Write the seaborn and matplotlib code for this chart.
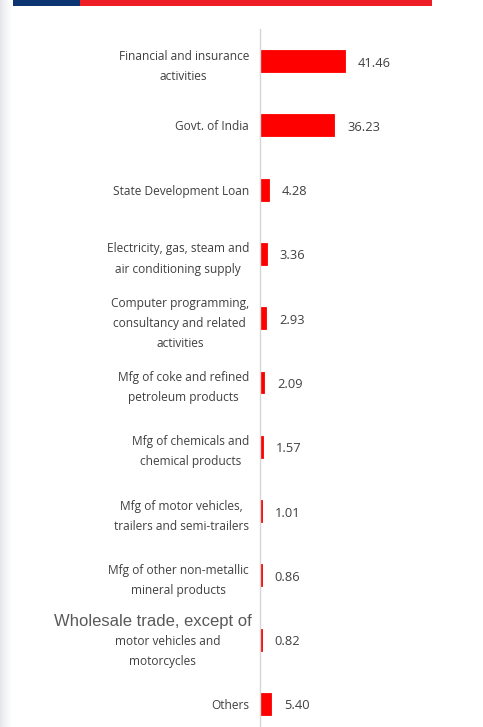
import matplotlib
matplotlib.use("Agg")
import matplotlib.pyplot as plt
import matplotlib.transforms as mtransforms
from matplotlib.patches import Rectangle
import numpy as np
import seaborn as sns
import pandas as pd

# Sector shares (%)
categories = [
    "Financial and insurance\nactivities",
    "Govt. of India",
    "State Development Loan",
    "Electricity, gas, steam and\nair conditioning supply",
    "Computer programming,\nconsultancy and related\nactivities",
    "Mfg of coke and refined\npetroleum products",
    "Mfg of chemicals and\nchemical products",
    "Mfg of motor vehicles,\ntrailers and semi-trailers",
    "Mfg of other non-metallic\nmineral products",
    "Wholesale trade, except of motor vehicles and motorcycles",
    "Others",
]
values = [41.46, 36.23, 4.28, 3.36, 2.93, 2.09, 1.57, 1.01, 0.86, 0.82, 5.40]
value_labels = ["41.46", "36.23", "4.28", "3.36", "2.93", "2.09", "1.57",
                "1.01", "0.86", "0.82", "5.40"]

df = pd.DataFrame({"sector": categories, "share": values})

sns.set_theme(style="white")
plt.rcParams["font.family"] = ["Open Sans", "DejaVu Sans"]

DPI = 100
fig = plt.figure(figsize=(4.83, 7.27), dpi=DPI)

# Soft page shadow along the left edge
shade = fig.add_axes([0, 0, 12 / 483, 1])
grad = np.linspace(0, 1, 64)[None, :] ** 0.7
shade.imshow(np.repeat(grad, 2, axis=0), cmap=sns.blend_palette(
    ["#e2e3e8", "#ffffff"], as_cmap=True), aspect="auto", vmin=0, vmax=1)
shade.set_axis_off()

ax = fig.add_axes([260 / 483, 0.0, 172 / 483, 1 - 29 / 727])

sns.barplot(data=df, x="share", y="sector", orient="h", color="#ff0000",
            saturation=1, width=0.34, edgecolor="#ff0000", linewidth=0.6,
            ax=ax)

ax.set_xlim(0, 84)
ax.set_ylim(10.36, -0.5)
ax.set_xlabel("")
ax.set_ylabel("")
ax.set_xticks([])

for side in ["top", "right", "bottom"]:
    ax.spines[side].set_visible(False)
ax.spines["left"].set_color("#d6d6d6")
ax.spines["left"].set_linewidth(1.0)

text_color = "#404040"
label_size = 8.6
tick_labels = [c if not c.startswith("Wholesale") else "" for c in categories]
ax.set_yticks(range(len(categories)))
ax.set_yticklabels(tick_labels, fontsize=label_size, color=text_color,
                   linespacing=1.72, ha="right")
ax.tick_params(axis="y", length=0, pad=8)
for lbl in ax.get_yticklabels():
    lbl.set_multialignment("center")


def px_offset(dx, dy=0):
    return mtransforms.ScaledTranslation(dx / DPI, dy / DPI, fig.dpi_scale_trans)


# Wholesale trade label drawn with a larger first line
wi = categories.index("Wholesale trade, except of motor vehicles and motorcycles")
ytr = ax.get_yaxis_transform()
ax.text(0, wi - 0.305, "Wholesale trade, except of", transform=ytr + px_offset(-8, -2),
        ha="right", va="center", fontsize=12, color="#595959",
        family=["Liberation Sans", "DejaVu Sans"])
ax.text(0, wi, "motor vehicles and", transform=ytr + px_offset(-92, -2),
        ha="center", va="center", fontsize=label_size, color=text_color)
ax.text(0, wi + 0.31, "motorcycles", transform=ytr + px_offset(-98, -2),
        ha="center", va="center", fontsize=label_size, color=text_color)

# Value annotations to the right of each bar
for i, (v, t) in enumerate(zip(values, value_labels)):
    ax.text(v, i, t, transform=ax.transData + px_offset(13, -2), ha="left",
            va="center", fontsize=9.3, color=text_color)

# Header band
fig.add_artist(Rectangle((13 / 483, 1 - 6 / 727), 67 / 483, 6 / 727,
                         transform=fig.transFigure, color="#0c3471", lw=0))
fig.add_artist(Rectangle((80 / 483, 1 - 6 / 727), 352 / 483, 6 / 727,
                         transform=fig.transFigure, color="#ee1c25", lw=0))

fig.savefig("out.png", dpi=DPI)
